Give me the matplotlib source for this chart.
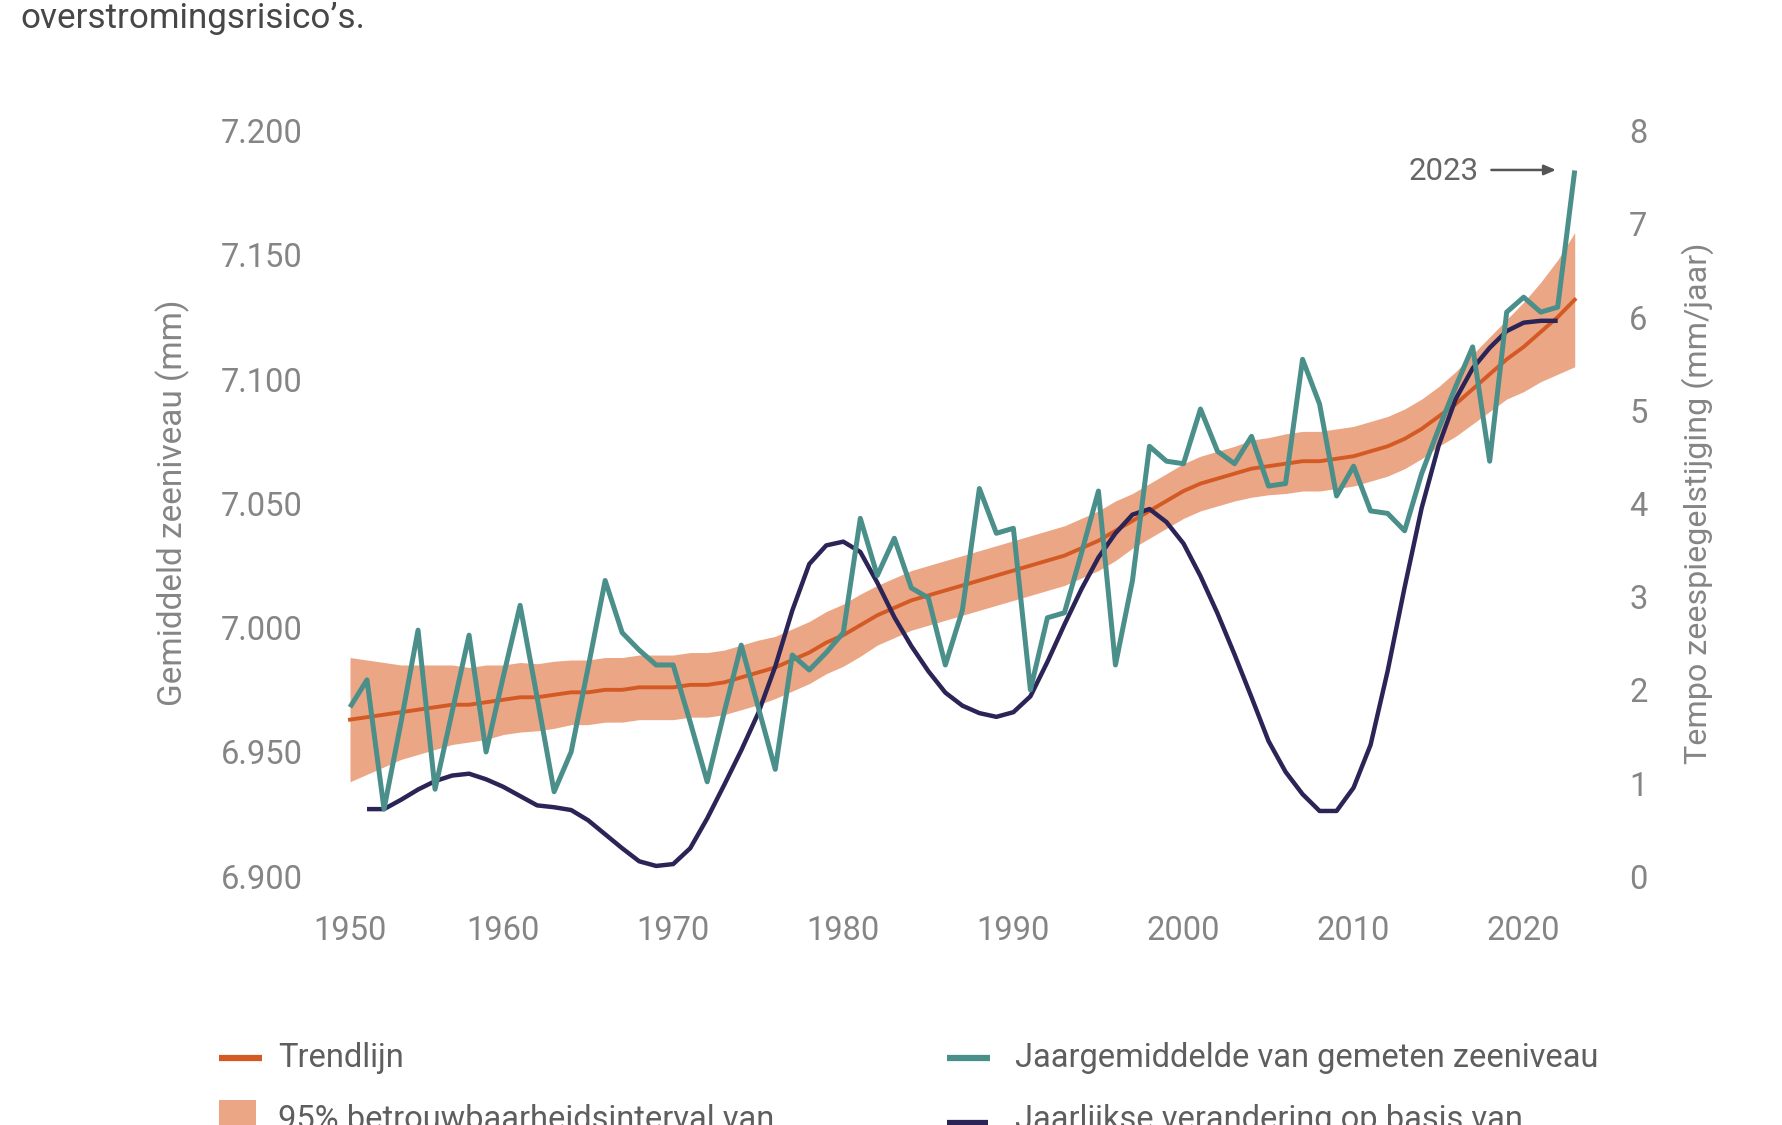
"""
Zeespiegel langs de Nederlandse kust 1950-2023: jaargemiddelde, trendlijn
met 95%-interval en jaarlijkse stijging (rechteras).
"""
import numpy as np
import matplotlib
matplotlib.use("Agg")
import matplotlib.pyplot as plt
from matplotlib.lines import Line2D
from matplotlib.patches import Rectangle

plt.rcParams["font.family"] = ["Roboto", "DejaVu Sans"]

# ---- data ----
YEARS = np.arange(1951, 2024)          # jaargemiddelde + trend
RATE_YEARS = np.arange(1952, 2023)     # jaarlijkse verandering

annual_mean = [
    6.968, 6.979, 6.927, 6.962, 6.999, 6.935, 6.966, 6.997, 6.950, 6.980,
    7.009, 6.972, 6.934, 6.950, 6.984, 7.019, 6.998, 6.991, 6.985, 6.985,
    6.962, 6.938, 6.966, 6.993, 6.968, 6.943, 6.989, 6.983, 6.990, 6.998,
    7.044, 7.021, 7.036, 7.016, 7.012, 6.985, 7.007, 7.056, 7.038, 7.040,
    6.975, 7.004, 7.006, 7.030, 7.055, 6.985, 7.019, 7.073, 7.067, 7.066,
    7.088, 7.071, 7.066, 7.077, 7.057, 7.058, 7.108, 7.090, 7.053, 7.065,
    7.047, 7.046, 7.039, 7.062, 7.080, 7.097, 7.113, 7.067, 7.127, 7.133,
    7.127, 7.129, 7.184,
]

trend = [
    6.963, 6.964, 6.965, 6.966, 6.967, 6.968, 6.969, 6.969, 6.970, 6.971,
    6.972, 6.972, 6.973, 6.974, 6.974, 6.975, 6.975, 6.976, 6.976, 6.976,
    6.977, 6.977, 6.978, 6.980, 6.982, 6.984, 6.987, 6.990, 6.994, 6.997,
    7.001, 7.005, 7.008, 7.011, 7.013, 7.015, 7.017, 7.019, 7.021, 7.023,
    7.025, 7.027, 7.029, 7.032, 7.035, 7.039, 7.043, 7.047, 7.051, 7.055,
    7.058, 7.060, 7.062, 7.064, 7.065, 7.066, 7.067, 7.067, 7.068, 7.069,
    7.071, 7.073, 7.076, 7.080, 7.085, 7.090, 7.096, 7.102, 7.108, 7.113,
    7.119, 7.125, 7.132,
]

# halve breedte van het 95%-betrouwbaarheidsinterval
band_half = [
    0.025, 0.023, 0.021, 0.019, 0.018, 0.017, 0.016, 0.015, 0.015, 0.014,
    0.014, 0.0135, 0.0135, 0.013, 0.013, 0.013, 0.013, 0.013, 0.013, 0.013,
    0.013, 0.013, 0.013, 0.013, 0.013, 0.0125, 0.0125, 0.0125, 0.0125, 0.0125,
    0.0125, 0.012, 0.012, 0.012, 0.012, 0.012, 0.012, 0.012, 0.012, 0.012,
    0.012, 0.012, 0.012, 0.012, 0.012, 0.012, 0.011, 0.011, 0.011, 0.011,
    0.011, 0.011, 0.011, 0.0115, 0.0115, 0.012, 0.012, 0.012, 0.012, 0.012,
    0.012, 0.012, 0.012, 0.012, 0.012, 0.013, 0.014, 0.015, 0.016, 0.018,
    0.020, 0.023, 0.027,
]

rate = [
    0.72, 0.72, 0.82, 0.93, 1.02, 1.08, 1.10, 1.04, 0.96, 0.86,
    0.76, 0.74, 0.71, 0.60, 0.45, 0.30, 0.16, 0.11, 0.13, 0.30,
    0.62, 0.98, 1.35, 1.75, 2.25, 2.85, 3.35, 3.55, 3.59, 3.48,
    3.15, 2.78, 2.47, 2.20, 1.97, 1.83, 1.75, 1.71, 1.76, 1.93,
    2.30, 2.70, 3.08, 3.42, 3.68, 3.88, 3.94, 3.80, 3.57, 3.22,
    2.82, 2.38, 1.92, 1.45, 1.12, 0.88, 0.70, 0.70, 0.95, 1.41,
    2.20, 3.10, 3.95, 4.62, 5.12, 5.45, 5.67, 5.85, 5.94, 5.96, 5.96,
]

LEFT_TICKS = [6.90, 6.95, 7.00, 7.05, 7.10, 7.15, 7.20]
LEFT_LABELS = ["6.900", "6.950", "7.000", "7.050", "7.100", "7.150", "7.200"]
RIGHT_TICKS = [0, 1, 2, 3, 4, 5, 6, 7, 8]
X_TICKS = [1951, 1960, 1970, 1980, 1990, 2000, 2010, 2020]
X_LABELS = ["1950", "1960", "1970", "1980", "1990", "2000", "2010", "2020"]

C_TREND = "#d35a24"
C_BAND = "#eba685"
C_TEAL = "#4b8f8b"
C_NAVY = "#2b2457"
C_TICK = "#858585"
C_TEXT = "#5e5e5e"

W, H = 1782, 1125


def fx(px):
    return px / W


def fy(py):
    return 1 - py / H


def main():
    fig = plt.figure(figsize=(W / 100, H / 100), dpi=100)

    ppy = 17.01
    x0, x1 = 1950.5, 2023.5
    left_px = 350 - 0.5 * ppy
    ax = fig.add_axes([fx(left_px), fy(876.2), (x1 - x0) * ppy / W, (876.2 - 130.7) / H])

    lo = np.array(trend) - np.array(band_half)
    hi = np.array(trend) + np.array(band_half)
    ax.fill_between(YEARS, lo, hi, color=C_BAND, lw=0, zorder=1)
    ax.plot(YEARS, trend, color=C_TREND, lw=2.8, zorder=2)

    ax.set_xlim(x0, x1)
    ax.set_ylim(6.9, 7.2)
    ax.set_yticks(LEFT_TICKS, LEFT_LABELS)
    ax.set_xticks(X_TICKS, X_LABELS)
    ax.tick_params(length=0, labelsize=23.5, labelcolor=C_TICK)
    ax.tick_params(axis="y", pad=28)
    ax.tick_params(axis="x", pad=28)
    for s in ax.spines.values():
        s.set_visible(False)

    ax2 = ax.twinx()
    ax2.plot(RATE_YEARS, rate, color=C_NAVY, lw=3.2, zorder=3, solid_capstyle="butt")
    ax2.set_ylim(0, 8)
    ax2.set_yticks(RIGHT_TICKS)
    ax2.tick_params(length=0, labelsize=23.5, labelcolor=C_TICK, pad=33)
    for s in ax2.spines.values():
        s.set_visible(False)

    # teal boven alles
    ax3 = ax.twinx()
    ax3.set_ylim(6.9, 7.2)
    ax3.axis("off")
    ax3.plot(YEARS, annual_mean, color=C_TEAL, lw=3.6, zorder=4, solid_capstyle="butt")
    ax3.set_xlim(x0, x1)

    # annotatie 2023
    ax3.annotate("", xy=(2021.9, 7.1842), xytext=(2018.1, 7.1842),
                 arrowprops=dict(arrowstyle="-|>,head_length=0.7,head_width=0.3",
                                 color="#555555", lw=1.8, shrinkA=0, shrinkB=0))
    ax3.text(2015.3, 7.1835, "2023", ha="center", va="center", fontsize=22.5, color="#666666")

    # aslabels
    fig.text(fx(173), fy(503), "Gemiddeld zeeniveau (mm)", rotation=90,
             ha="center", va="center", fontsize=24, color=C_TICK)
    fig.text(fx(1698), fy(503), "Tempo zeespiegelstijging (mm/jaar)", rotation=90,
             ha="center", va="center", fontsize=23.2, color=C_TICK)

    # tekst bovenaan (afgesneden zin)
    fig.text(fx(20), fy(28), "overstromingsrisico\u2019s.", ha="left", va="baseline",
             fontsize=25.2, color="#474747")

    # legenda (handmatig, onderste rij valt deels buiten beeld zoals in het origineel)
    tr = fig.transFigure
    fig.add_artist(Line2D([fx(219), fx(262)], [fy(1058)] * 2, transform=tr,
                          color=C_TREND, lw=4.5, solid_capstyle="butt"))
    fig.text(fx(278), fy(1058), "Trendlijn", va="center", fontsize=23.5, color=C_TEXT)
    fig.add_artist(Line2D([fx(947), fx(990)], [fy(1058)] * 2, transform=tr,
                          color=C_TEAL, lw=4.5, solid_capstyle="butt"))
    fig.text(fx(1015), fy(1058), "Jaargemiddelde van gemeten zeeniveau", va="center",
             fontsize=23.5, color=C_TEXT)

    fig.add_artist(Rectangle((fx(219), fy(1145)), 37 / W, 45 / H, transform=tr,
                             color=C_BAND, lw=0))
    fig.text(fx(278), fy(1129), "95% betrouwbaarheidsinterval van", va="baseline",
             fontsize=23.5, color=C_TEXT)
    fig.add_artist(Line2D([fx(947), fx(988)], [fy(1123)] * 2, transform=tr,
                          color=C_NAVY, lw=4.5, solid_capstyle="butt"))
    fig.text(fx(1015), fy(1129), "Jaarlijkse verandering op basis van", va="baseline",
             fontsize=23.5, color=C_TEXT)

    fig.savefig("out.png", dpi=100)


if __name__ == "__main__":
    main()
